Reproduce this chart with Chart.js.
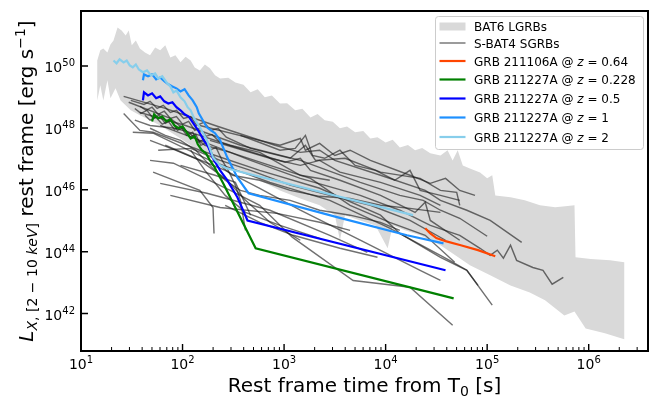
<!DOCTYPE html>
<html><head><meta charset="utf-8">
<script src="https://cdn.jsdelivr.net/npm/chart.js@4.4.1/dist/chart.umd.min.js"></script>
<style>html,body{margin:0;padding:0;background:#fff;}canvas{display:block;}</style>
</head><body>
<canvas id="c" width="649" height="399"></canvas>
<script>
// ---- values (log10 of time [s] and of luminosity [erg/s]) ----
const xTickExponents = [1, 2, 3, 4, 5, 6];
const yTickExponents = [42, 44, 46, 48, 50];
const xRangeLog = [1.0, 6.584];
const yRangeLog = [40.79, 51.78];

const bandUpperLogT = [1.16,1.19,1.22,1.26,1.29,1.32,1.36,1.40,1.44,1.47,1.50,1.54,1.58,1.63,1.68,1.73,1.78,1.83,1.88,1.93,1.98,2.03,2.08,2.12,2.17,2.22,2.27,2.32,2.37,2.45,2.52,2.60,2.67,2.74,2.81,2.88,2.96,3.03,3.11,3.18,3.26,3.33,3.40,3.48,3.55,3.62,3.70,3.78,3.85,3.92,4.00,4.07,4.14,4.22,4.29,4.36,4.44,4.54,4.61,4.66,4.71,4.76,4.83,4.93,5.00,5.05,5.08,5.23,5.37,5.52,5.67,5.77,5.86,5.87,6.02,6.21,6.35];
const bandUpperLogL = [50.18,50.51,50.57,50.44,50.70,50.83,51.25,51.15,50.99,51.15,50.67,50.83,50.57,50.44,50.35,50.60,50.51,50.67,50.28,50.35,50.12,50.30,50.18,49.95,49.86,50.05,49.93,49.70,49.60,49.62,49.47,49.40,49.15,49.25,48.99,49.05,48.79,48.80,48.57,48.62,48.34,48.45,48.25,48.20,47.99,48.05,47.86,47.90,47.66,47.70,47.53,47.62,47.37,47.45,47.28,47.35,47.18,47.11,47.28,46.95,47.28,46.79,46.69,46.56,46.37,46.47,45.82,45.76,45.66,45.50,45.44,45.47,45.50,43.82,43.76,43.72,43.66];
const bandLowerLogT = [1.16,1.19,1.22,1.26,1.29,1.34,1.39,1.49,1.58,1.68,1.78,1.93,2.08,2.22,2.37,2.57,2.76,2.96,3.16,3.35,3.50,3.55,3.60,3.75,3.90,4.02,4.07,4.19,4.34,4.54,4.69,4.83,5.03,5.23,5.42,5.57,5.76,5.86,5.97,6.16,6.35];
const bandLowerLogL = [48.89,49.38,48.89,49.54,48.96,49.28,48.89,48.57,48.41,48.25,48.08,47.76,47.44,47.11,46.86,46.63,46.31,45.98,45.72,45.50,45.18,44.37,45.18,45.01,44.85,44.11,44.85,44.69,44.53,44.21,43.88,43.56,43.24,42.91,42.68,42.43,41.94,42.07,41.52,41.36,41.17];

const sgrbLogT = [
  [1.42,1.83,2.32,2.91,3.16,3.35,3.50,3.95,4.39,4.54,4.80,5.03,5.34],
  [1.58,2.03,2.57,3.16,3.75,4.14,4.37,4.54,4.73,5.00],
  [1.78,2.17,2.67,3.16,3.75,4.14,4.44,4.73,4.93,5.03,5.10,5.16,5.23,5.29,5.45,5.55,5.64,5.75],
  [1.42,1.58,1.71,2.17,2.76,3.35,3.95,4.14,4.54,4.80,4.91],
  [1.51,1.71,2.27,2.86,3.45,4.04,4.63,4.80,5.05],
  [1.68,1.91,2.47,2.76,3.08,3.68,4.24,4.66],
  [1.78,2.24,2.86,3.45,3.82],
  [1.71,2.17,2.30,2.31],
  [1.49,1.62,1.68,1.75,1.81,1.88,1.94,2.01,2.08,2.14,2.21,2.28,2.35,2.43,2.67,3.06,3.21,3.31,3.60,3.95,4.34,4.54,4.70,4.73],
  [1.58,1.64,1.70,1.76,1.82,1.88,1.94,2.00,2.06,2.12,2.17,2.23,2.29,2.37,2.62,3.01,3.16,3.26,3.55,3.95,4.29,4.39,4.44,4.73],
  [1.47,1.88,2.03,2.22,2.47,2.86,3.26,3.65,4.04,4.39,4.68],
  [1.83,2.13,2.42,2.76,3.16,3.75,4.34,4.54],
  [1.88,2.37,2.93,3.35,3.65],
  [2.42,2.76,3.09,3.55,3.92],
  [2.17,2.76,2.96,3.16,3.21,3.35,3.50,3.65,3.85,4.24,4.44,4.59,4.73,4.88],
  [2.27,2.86,3.16,3.35,3.55,3.95,4.34,4.54],
  [1.98,2.32,2.52,2.67],
  [1.53,1.68,1.93,2.17,2.47,2.76,3.16,3.45],
  [1.76,2.08,2.37,2.67,3.06,3.45,3.85,4.24,4.59],
  [1.68,1.93,2.17,2.42,2.62,2.86,3.16],
  [1.63,1.68,1.74,1.80,1.86,1.92,1.98,2.04,2.10,2.15,2.21,2.27,2.33,2.39,2.45,2.52,2.57,2.62],
  [1.53,1.59,1.65,1.71,1.77,1.83,1.89,1.95,2.01,2.07,2.13,2.18,2.24,2.30,2.37,2.49,2.76,3.06,3.35,3.65,3.95,4.24,4.54],
  [1.68,1.83,1.98,2.13,2.27,2.42,2.57,2.76,3.06,3.35,3.65,3.95,4.14],
  [2.57,2.76,2.96,3.11,3.21,3.28,3.40,3.55,3.70,3.90,4.09,4.24,4.34,4.54,4.73],
  [2.08,2.22,2.42,2.62,2.96,3.35]
];
const sgrbLogL = [
  [49.02,48.63,48.08,47.44,47.21,47.28,46.95,46.47,45.98,45.66,45.34,45.01,44.30],
  [48.50,48.08,47.44,46.95,46.24,45.82,45.66,45.34,45.08,44.50],
  [48.08,47.60,46.95,46.37,45.82,45.34,44.85,44.53,44.11,43.88,44.05,43.79,44.21,43.72,43.49,43.40,42.95,43.17],
  [48.47,47.92,47.86,47.28,46.63,46.05,45.18,44.59,43.82,43.40,42.91],
  [47.86,47.83,46.95,46.24,45.66,44.76,43.72,43.40,42.27],
  [46.95,46.86,45.98,45.50,44.47,43.07,42.85,41.62],
  [46.21,45.89,45.34,44.53,43.98],
  [46.57,45.98,45.43,44.59],
  [48.89,48.76,48.86,48.63,48.73,48.50,48.57,48.31,48.37,48.08,48.18,47.92,47.99,47.70,47.34,47.02,47.44,46.95,47.02,46.57,46.37,45.98,45.92,45.50],
  [48.70,48.57,48.67,48.44,48.54,48.31,48.37,48.12,48.21,47.92,47.99,47.73,47.79,47.53,47.28,46.89,47.02,46.63,46.31,45.82,45.27,45.60,45.01,44.37],
  [48.83,48.31,47.92,47.44,47.21,46.79,46.37,45.50,44.95,44.53,43.66],
  [47.44,47.02,46.63,46.05,45.34,44.37,43.40,43.07],
  [45.82,45.43,45.24,44.95,44.69],
  [45.50,44.95,44.53,44.11,43.82],
  [48.08,47.60,47.44,47.66,47.28,47.50,47.11,47.28,46.95,46.47,46.21,46.37,45.98,45.82],
  [47.60,47.02,46.79,46.95,46.57,46.24,45.82,45.50],
  [46.79,46.47,46.24,45.18],
  [48.25,48.08,47.99,47.76,47.44,47.21,46.47,46.31],
  [47.28,47.34,46.95,46.63,46.15,45.82,45.50,45.01,44.37],
  [47.60,47.28,46.95,46.37,45.66,44.95,44.37],
  [48.41,48.25,48.34,48.12,48.21,47.95,48.05,47.76,47.86,47.53,47.63,47.28,47.37,46.95,46.63,46.15,45.66,44.69],
  [48.63,48.47,48.57,48.31,48.41,48.15,48.25,47.92,48.02,47.70,47.79,47.44,47.53,47.11,46.79,46.47,46.31,45.98,45.79,45.72,45.50,45.40,45.27],
  [47.99,47.76,47.60,47.28,46.79,46.31,45.98,45.82,45.66,45.34,45.18,44.95,44.69],
  [47.76,47.53,47.28,47.34,47.76,47.11,47.02,47.28,46.79,46.63,46.31,46.63,45.98,45.82,45.66],
  [47.28,46.63,45.82,45.27,44.85,44.43]
];

const grb211106A_LogT = [4.39,4.44,4.50,4.59,4.74,4.91,5.08];
const grb211106A_LogL = [44.76,44.59,44.44,44.34,44.21,44.05,43.85];
const grb211227A_z0228_LogT = [1.70,1.72,1.76,1.80,1.84,1.88,1.92,1.96,2.00,2.04,2.08,2.12,2.15,2.19,2.23,2.27,2.31,2.40,2.72,4.67];
const grb211227A_z0228_LogL = [48.21,48.44,48.31,48.37,48.21,48.28,48.08,47.99,48.05,47.86,47.66,47.73,47.47,47.28,47.18,46.95,46.76,46.21,44.11,42.49];
const grb211227A_z05_LogT = [1.61,1.62,1.66,1.70,1.74,1.78,1.82,1.86,1.90,1.94,1.98,2.02,2.06,2.10,2.14,2.17,2.21,2.25,2.30,2.37,2.44,2.54,2.64,4.59];
const grb211227A_z05_LogL = [48.89,49.15,49.05,49.12,48.96,49.02,48.86,48.79,48.83,48.67,48.57,48.44,48.37,48.18,47.99,47.83,47.60,47.41,47.02,46.63,46.31,45.76,45.01,43.40];
const grb211227A_z1_LogT = [1.61,1.62,1.66,1.70,1.74,1.78,1.82,1.86,1.90,1.94,1.98,2.02,2.06,2.10,2.14,2.16,2.20,2.24,2.28,2.32,2.37,2.44,2.54,2.65,3.53,4.21,4.57];
const grb211227A_z1_LogL = [49.54,49.73,49.67,49.73,49.57,49.63,49.51,49.41,49.34,49.28,49.18,49.25,49.05,48.89,48.67,48.47,48.25,48.02,47.92,47.83,47.60,47.05,46.40,45.89,45.11,44.53,44.27];
const grb211227A_z2_LogT = [1.32,1.35,1.38,1.42,1.45,1.48,1.51,1.54,1.57,1.61,1.65,1.69,1.73,1.76,1.80,1.85,1.88,1.91,1.94,1.98,2.02,2.05,2.08,2.11,2.14,2.17,2.21,2.24,2.27,2.30,2.37,2.44,4.27];
const grb211227A_z2_LogL = [50.18,50.09,50.22,50.12,50.18,50.02,49.96,50.05,49.89,49.80,49.86,49.70,49.76,49.60,49.67,49.44,49.34,49.15,49.21,48.99,48.86,48.67,48.57,48.34,48.18,48.02,47.79,47.60,47.34,47.05,46.79,46.69,45.18];

// legend: [text before z, text after z (null = no z)]
const legendLabels = [
  ['BAT6 LGRBs', null],
  ['S-BAT4 SGRBs', null],
  ['GRB 211106A @ ', ' = 0.64'],
  ['GRB 211227A @ ', ' = 0.228'],
  ['GRB 211227A @ ', ' = 0.5'],
  ['GRB 211227A @ ', ' = 1'],
  ['GRB 211227A @ ', ' = 2']
];

// ---- build ----
const FF = "'DejaVu Sans', sans-serif";
const COL = { band:'#d9d9d9', sgrb:'rgba(25,25,25,0.62)', orange:'#ff4500', green:'#008000', blue:'#0000ff', dodger:'#1e90ff', sky:'#87ceeb' };
const pts = (lt, ll) => lt.map((v, i) => ({ x: Math.pow(10, v), y: Math.pow(10, ll[i]) }));
const lineDs = (label, lt, ll, color, w) => ({ label, data: pts(lt, ll), borderColor: color, borderWidth: w, pointRadius: 0, fill: false, tension: 0 });

const datasets = [];
datasets.push(lineDs('GRB 211227A @ z = 2', grb211227A_z2_LogT, grb211227A_z2_LogL, COL.sky, 2.2));
datasets.push(lineDs('GRB 211227A @ z = 1', grb211227A_z1_LogT, grb211227A_z1_LogL, COL.dodger, 2.2));
datasets.push(lineDs('GRB 211227A @ z = 0.5', grb211227A_z05_LogT, grb211227A_z05_LogL, COL.blue, 2.2));
datasets.push(lineDs('GRB 211227A @ z = 0.228', grb211227A_z0228_LogT, grb211227A_z0228_LogL, COL.green, 2.2));
datasets.push(lineDs('GRB 211106A @ z = 0.64', grb211106A_LogT, grb211106A_LogL, COL.orange, 2.2));
sgrbLogT.forEach((lt, i) => datasets.push(lineDs(i === 0 ? 'S-BAT4 SGRBs' : '', lt, sgrbLogL[i], COL.sgrb, 1.4)));
const bandT = bandUpperLogT.concat(bandLowerLogT.slice().reverse());
const bandL = bandUpperLogL.concat(bandLowerLogL.slice().reverse());
datasets.push({ label: 'BAT6 LGRBs', data: pts(bandT, bandL), borderWidth: 0, borderColor: 'rgba(0,0,0,0)', backgroundColor: COL.band, pointRadius: 0, fill: 'shape', tension: 0 });

function powLabel(ctx, exp, xPos, baseY, align) {
  ctx.font = '14px ' + FF; const w1 = ctx.measureText('10').width;
  ctx.font = '10px ' + FF; const w2 = ctx.measureText(String(exp)).width;
  const w = w1 + w2;
  const sx = align === 'center' ? xPos - w / 2 : xPos - w;
  ctx.textAlign = 'left'; ctx.textBaseline = 'alphabetic';
  ctx.font = '14px ' + FF; ctx.fillText('10', sx, baseY);
  ctx.font = '10px ' + FF; ctx.fillText(String(exp), sx + w1, baseY - 6);
}
function richText(ctx, parts, x, y, center) {
  let w = 0;
  parts.forEach(p => { ctx.font = p.f; p.w = ctx.measureText(p.t).width; w += p.w; });
  let cx = center ? x - w / 2 : x;
  parts.forEach(p => { ctx.font = p.f; ctx.fillText(p.t, cx, y + (p.dy || 0)); cx += p.w; });
  return w;
}

const decor = {
  id: 'decor',
  afterDraw(chart) {
    const { ctx, chartArea: a, scales: { x, y } } = chart;
    ctx.save();
    ctx.fillStyle = '#000'; ctx.strokeStyle = '#000';
    ctx.lineWidth = 1.4;
    ctx.beginPath();
    xTickExponents.forEach(e => { const px = x.getPixelForValue(Math.pow(10, e)); ctx.moveTo(px, a.bottom); ctx.lineTo(px, a.bottom - 7); });
    yTickExponents.forEach(e => { const py = y.getPixelForValue(Math.pow(10, e)); ctx.moveTo(a.left, py); ctx.lineTo(a.left + 7, py); });
    ctx.stroke();
    ctx.lineWidth = 1;
    ctx.beginPath();
    for (let e = 1; e <= 6; e++) for (let m = 2; m <= 9; m++) {
      const v = m * Math.pow(10, e); if (v > x.max) continue;
      const px = x.getPixelForValue(v); ctx.moveTo(px, a.bottom); ctx.lineTo(px, a.bottom - 4);
    }
    ctx.stroke();
    ctx.lineWidth = 2;
    ctx.strokeRect(a.left, a.top, a.right - a.left, a.bottom - a.top);
    xTickExponents.forEach(e => powLabel(ctx, e, x.getPixelForValue(Math.pow(10, e)), a.bottom + 18, 'center'));
    yTickExponents.forEach(e => powLabel(ctx, e, a.left - 6, y.getPixelForValue(Math.pow(10, e)) + 6, 'right'));
    richText(ctx, [
      { t: 'Rest frame time from T', f: '20px ' + FF },
      { t: '0', f: '14px ' + FF, dy: 4 },
      { t: ' [s]', f: '20px ' + FF }
    ], (a.left + a.right) / 2, 392, true);
    ctx.save();
    ctx.translate(33, (a.top + a.bottom) / 2);
    ctx.rotate(-Math.PI / 2);
    richText(ctx, [
      { t: 'L', f: 'italic 20px ' + FF },
      { t: 'X', f: 'italic 14px ' + FF, dy: 4 },
      { t: ', [2 \u2212 10 ', f: '14px ' + FF, dy: 4 },
      { t: 'keV', f: 'italic 14px ' + FF, dy: 4 },
      { t: ']', f: '14px ' + FF, dy: 4 },
      { t: ' rest frame [erg s', f: '20px ' + FF },
      { t: '\u22121', f: '14px ' + FF, dy: -8 },
      { t: ']', f: '20px ' + FF }
    ], 0, 0, true);
    ctx.restore();
    const lx = 435.5, ly = 16.5, lw = 208, lh = 133;
    ctx.beginPath();
    if (ctx.roundRect) ctx.roundRect(lx, ly, lw, lh, 3); else ctx.rect(lx, ly, lw, lh);
    ctx.fillStyle = 'rgba(255,255,255,0.8)'; ctx.fill();
    ctx.strokeStyle = '#cccccc'; ctx.lineWidth = 1; ctx.stroke();
    const rowY = [26.5, 43, 61, 79.5, 98.5, 117.5, 137];
    const handleCol = [null, 'rgba(25,25,25,0.62)', COL.orange, COL.green, COL.blue, COL.dodger, COL.sky];
    legendLabels.forEach((lab, i) => {
      const yc = rowY[i];
      if (i === 0) { ctx.fillStyle = COL.band; ctx.fillRect(439.5, yc - 4, 26, 8); }
      else {
        ctx.strokeStyle = handleCol[i]; ctx.lineWidth = i === 1 ? 1.4 : 2.2;
        ctx.beginPath(); ctx.moveTo(439.5, yc); ctx.lineTo(465.5, yc); ctx.stroke();
      }
      ctx.fillStyle = '#000';
      const parts = [{ t: lab[0], f: '12px ' + FF }];
      if (lab[1] !== null) { parts.push({ t: 'z', f: 'italic 12px ' + FF }); parts.push({ t: lab[1], f: '12px ' + FF }); }
      richText(ctx, parts, 474, yc + 4.5, false);
    });
    ctx.restore();
  }
};

new Chart(document.getElementById('c'), {
  type: 'line',
  data: { datasets },
  options: {
    responsive: false, animation: false, devicePixelRatio: 1, events: [],
    layout: { padding: { left: 81, right: 1, top: 11, bottom: 48 } },
    plugins: { legend: { display: false }, tooltip: { enabled: false } },
    scales: {
      x: { type: 'logarithmic', display: false, bounds: 'data', min: Math.pow(10, xRangeLog[0]), max: Math.pow(10, xRangeLog[1]) },
      y: { type: 'logarithmic', display: false, bounds: 'data', min: Math.pow(10, yRangeLog[0]), max: Math.pow(10, yRangeLog[1]) }
    },
    elements: { point: { radius: 0 }, line: { tension: 0 } }
  },
  plugins: [decor]
});
</script>
</body></html>
